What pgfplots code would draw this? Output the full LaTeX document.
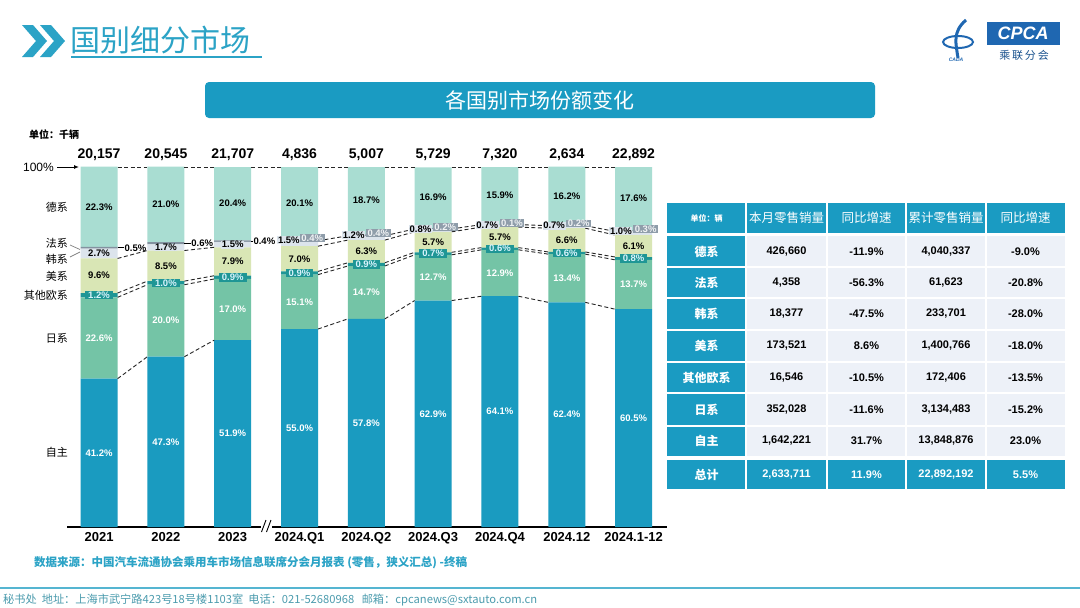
\documentclass[border=0pt]{standalone}
\usepackage{pgfplots}
\pgfplotsset{compat=1.18}
\usepackage{pgfplotstable}
\usepackage{fontspec}
\setmainfont{Liberation Sans}
\newfontfamily\cjk{Noto Sans CJK SC}
\usetikzlibrary{arrows.meta}

\definecolor{czizhu}{HTML}{1A9BC0}
\definecolor{criji}{HTML}{74C4A6}
\definecolor{cou}{HTML}{1F9695}
\definecolor{cmei}{HTML}{D9E6B5}
\definecolor{chan}{HTML}{DCE4EC}
\definecolor{cfa}{HTML}{8392A0}
\definecolor{cde}{HTML}{A9DDD2}
\definecolor{cteal}{HTML}{2BA3C6}
\definecolor{ctab}{HTML}{1A9BC2}
\definecolor{ccell}{HTML}{EDF1F8}
\definecolor{cpblue}{HTML}{1F67B1}
\definecolor{cfoot}{HTML}{4C9CAE}

\pgfplotstableread{
x A J E U K F G
0 41.2 22.6 1.2 9.6 2.7 0.5 22.3
1 47.3 20.0 1.0 8.5 1.7 0.6 21.0
2 51.9 17.0 0.9 7.9 1.5 0.4 20.4
3 55.0 15.1 0.9 7.0 1.5 0.4 20.1
4 57.8 14.7 0.9 6.3 1.2 0.4 18.7
5 62.9 12.7 0.7 5.7 0.8 0.2 16.9
6 64.1 12.9 0.6 5.7 0.7 0.1 15.9
7 62.4 13.4 0.6 6.6 0.7 0.2 16.2
8 60.5 13.7 0.8 6.1 1.0 0.3 17.6
}\shares

\pgfplotsset{
  conn/.style={black!85, dash pattern=on 4pt off 2.5pt, line width=0.9pt, mark=none},
  lab/.style={only marks, mark=none, point meta=explicit symbolic,
    nodes near coords={\pgfplotspointmeta\%},
    every node near coord/.append style={anchor=center, font=\bfseries\fontsize{9.5}{9.5}\selectfont, inner sep=0.6pt, #1}},
}

\begin{document}
\begin{tikzpicture}
\begin{scope}[x=1pt,y=-1pt]
\path[use as bounding box, fill=white] (0,0) rectangle (1080,608);
% title
\fill[cteal] (22,25) -- (33,25) -- (47,41) -- (33,57) -- (22,57) -- (36,41) -- cycle;
\fill[cteal] (40,25) -- (51,25) -- (65,41) -- (51,57) -- (40,57) -- (54,41) -- cycle;
\node[anchor=west, text=cteal, font=\cjk\fontsize{30}{30}\selectfont, inner sep=0pt] at (70,40) {国别细分市场};
\draw[cteal, line width=1.2pt] (71,57) -- (262,57);
% logo
\draw[cpblue, line width=2pt] (958,42) ellipse [x radius=15, y radius=6];
\draw[cpblue, line width=3pt] (966,20) .. controls (952,32) and (956,44) .. (958,58);
\node[text=cpblue, font=\bfseries\itshape\fontsize{5}{5}\selectfont] at (956,60) {CADA};
\fill[cpblue] (987,22) rectangle (1060,45);
\node[text=white, font=\bfseries\itshape\fontsize{18}{18}\selectfont] at (1023,33.5) {CPCA};
\node[text=cpblue!80!black, font=\cjk\fontsize{11}{11}\selectfont] at (1024,55) {乘\,联\,分\,会};
% banner
\fill[ctab, rounded corners=4pt] (205,82) rectangle (875,118);
\node[text=white, font=\cjk\fontsize{21}{21}\selectfont] at (540,100) {各国别市场份额变化};
% unit
\node[anchor=west, font=\cjk\bfseries\fontsize{10}{10}\selectfont, inner sep=0pt] at (29,135) {单位：千辆};
\node[anchor=east, font=\fontsize{12}{12}\selectfont, inner sep=0pt] at (54,167) {100\%};
\draw[-{Latex[length=5pt,width=4pt]}, line width=1pt] (57,167) -- (79,167);
% category labels
\begin{scope}[every node/.style={anchor=east, font=\cjk\fontsize{11}{11}\selectfont, inner sep=0pt}]
\node at (68,207) {德系};
\node at (68,243) {法系};
\node at (68,259) {韩系};
\node at (68,276) {美系};
\node at (68,295) {其他欧系};
\node at (68,338) {日系};
\node at (68,452) {自主};
\end{scope}
\draw[gray, line width=0.7pt] (70,245) -- (80,249.5);
\draw[gray, line width=0.7pt] (70,257) -- (80,252);
% table
\fill[ctab] (667,203) rectangle (1065,233);
\fill[ctab] (667,236) rectangle (746,456);
\fill[ccell] (746,236) rectangle (1065,456);
\fill[ctab] (667,460) rectangle (1065,489);
\foreach \xx in {746,827,906,986} {\draw[white, line width=1.5pt] (\xx,203) -- (\xx,489);}
\foreach \yy in {267,298,330,362,393,426} {\draw[white, line width=2pt] (667,\yy) -- (1065,\yy);}
\begin{scope}[every node/.style={text=white, font=\cjk\fontsize{12.5}{12.5}\selectfont, inner sep=0pt}]
\node[font=\cjk\bfseries\fontsize{8}{8}\selectfont] at (706.5,218) {单位：辆};
\node at (786.5,218) {本月零售销量};
\node at (866.5,218) {同比增速};
\node at (946,218) {累计零售销量};
\node at (1025.5,218) {同比增速};
\end{scope}
\begin{scope}[every node/.style={text=white, font=\cjk\bfseries\fontsize{12}{12}\selectfont, inner sep=0pt}]
\node at (706.5,251.5) {德系};
\node at (706.5,282.5) {法系};
\node at (706.5,314) {韩系};
\node at (706.5,346) {美系};
\node at (706.5,377.5) {其他欧系};
\node at (706.5,409.5) {日系};
\node at (706.5,441) {自主};
\node at (706.5,474.5) {总计};
\end{scope}
\begin{scope}[every node/.style={font=\bfseries\fontsize{11}{11}\selectfont, inner sep=0pt}]
\node at (786.5,251.5) {426,660}; \node at (866.5,251.5) {-11.9\%}; \node at (946,251.5) {4,040,337}; \node at (1025.5,251.5) {-9.0\%};
\node at (786.5,282.5) {4,358}; \node at (866.5,282.5) {-56.3\%}; \node at (946,282.5) {61,623}; \node at (1025.5,282.5) {-20.8\%};
\node at (786.5,314) {18,377}; \node at (866.5,314) {-47.5\%}; \node at (946,314) {233,701}; \node at (1025.5,314) {-28.0\%};
\node at (786.5,346) {173,521}; \node at (866.5,346) {8.6\%}; \node at (946,346) {1,400,766}; \node at (1025.5,346) {-18.0\%};
\node at (786.5,377.5) {16,546}; \node at (866.5,377.5) {-10.5\%}; \node at (946,377.5) {172,406}; \node at (1025.5,377.5) {-13.5\%};
\node at (786.5,409.5) {352,028}; \node at (866.5,409.5) {-11.6\%}; \node at (946,409.5) {3,134,483}; \node at (1025.5,409.5) {-15.2\%};
\node at (786.5,441) {1,642,221}; \node at (866.5,441) {31.7\%}; \node at (946,441) {13,848,876}; \node at (1025.5,441) {23.0\%};
\end{scope}
\begin{scope}[every node/.style={text=white, font=\bfseries\fontsize{11}{11}\selectfont, inner sep=0pt}]
\node at (786.5,474.5) {2,633,711}; \node at (866.5,474.5) {11.9\%}; \node at (946,474.5) {22,892,192}; \node at (1025.5,474.5) {5.5\%};
\end{scope}
% source and footer
\node[anchor=west, text=cteal, font=\cjk\bfseries\fontsize{11.5}{11.5}\selectfont, inner sep=0pt] at (34,563) {数据来源：中国汽车流通协会乘用车市场信息联席分会月报表 (零售，狭义汇总) -终稿};
\draw[cteal!80, line width=2pt] (0,588) -- (1080,588);
\node[anchor=west, text=cfoot, font=\cjk\fontsize{11.2}{11.2}\selectfont, inner sep=0pt] at (3,600) {秘书处\ \ 地址：上海市武宁路423号18号楼1103室\ \ 电话：021-52680968\ \ \ 邮箱：cpcanews@sxtauto.com.cn};
\end{scope}

% bars
\begin{axis}[
  at={(67pt,-527pt)}, anchor=south west,
  scale only axis, width=600pt, height=360pt,
  xmin=-0.48, xmax=8.5, ymin=0, ymax=100,
  ybar stacked, bar width=37pt,
  axis x line=bottom, axis y line=none,
  x axis line style={-, line width=1.2pt, black},
  xtick={0,...,8},
  xticklabels={2021,2022,2023,2024.Q1,2024.Q2,2024.Q3,2024.Q4,2024.12,2024.1-12},
  major tick length=0pt,
  xticklabel style={font=\bfseries\fontsize{13}{13}\selectfont, inner sep=0pt, yshift=-5pt},
  clip=false,
]
\addplot[fill=czizhu, draw=none] table[x=x,y=A]{\shares};
\addplot[fill=criji, draw=none] table[x=x,y=J]{\shares};
\addplot[fill=cou, draw=none] table[x=x,y=E]{\shares};
\addplot[fill=cmei, draw=none] table[x=x,y=U]{\shares};
\addplot[fill=chan, draw=none] table[x=x,y=K]{\shares};
\addplot[fill=cfa, draw=none] table[x=x,y=F]{\shares};
\addplot[fill=cde, draw=none] table[x=x,y=G]{\shares};
\end{axis}

% connectors and labels
\begin{axis}[
  at={(67pt,-527pt)}, anchor=south west,
  scale only axis, width=600pt, height=360pt,
  xmin=-0.48, xmax=8.5, ymin=0, ymax=100,
  hide axis, clip=false, unbounded coords=jump,
]
\addplot[conn] table {
x y
0.277 41.2
0.723 47.3
1 nan
1.277 47.3
1.723 51.9
2 nan
3.277 55.0
3.723 57.8
4 nan
4.277 57.8
4.723 62.9
5 nan
5.277 62.9
5.723 64.1
6 nan
6.277 64.1
6.723 62.4
7 nan
7.277 62.4
7.723 60.5
};
\addplot[conn] table {
x y
0.277 63.8
0.723 67.3
1 nan
1.277 67.3
1.723 68.9
2 nan
3.277 70.1
3.723 72.5
4 nan
4.277 72.5
4.723 75.6
5 nan
5.277 75.6
5.723 77.0
6 nan
6.277 77.0
6.723 75.8
7 nan
7.277 75.8
7.723 74.2
};
\addplot[conn] table {
x y
0.277 65.0
0.723 68.3
1 nan
1.277 68.3
1.723 69.8
2 nan
3.277 71.0
3.723 73.4
4 nan
4.277 73.4
4.723 76.3
5 nan
5.277 76.3
5.723 77.6
6 nan
6.277 77.6
6.723 76.4
7 nan
7.277 76.4
7.723 75.0
};
\addplot[conn] table {
x y
0.277 74.6
0.723 76.8
1 nan
1.277 76.8
1.723 77.7
2 nan
3.277 78.0
3.723 79.7
4 nan
4.277 79.7
4.723 82.0
5 nan
5.277 82.0
5.723 83.3
6 nan
6.277 83.3
6.723 83.0
7 nan
7.277 83.0
7.723 81.1
};
\addplot[conn] table {
x y
3.277 79.5
3.723 80.9
4 nan
4.277 80.9
4.723 82.8
5 nan
5.277 82.8
5.723 84.0
6 nan
6.277 84.0
6.723 83.7
7 nan
7.277 83.7
7.723 82.1
};
\addplot[conn] table {
x y
0.277 100
0.723 100
1 nan
1.277 100
1.723 100
2 nan
2.277 100
2.723 100
3 nan
3.277 100
3.723 100
4 nan
4.277 100
4.723 100
5 nan
5.277 100
5.723 100
6 nan
6.277 100
6.723 100
7 nan
7.277 100
7.723 100
};
\addplot[black, line width=0.8pt, mark=none] table {
x y
0.277 77.55
0.37 77.55
1 nan
1.277 78.8
1.37 78.8
2 nan
2.277 79.4
2.31 79.4
};
% white labels
\addplot[lab={text=white}] table[meta=v] {
x y v
0 20.6 41.2
1 23.65 47.3
2 25.95 51.9
3 27.5 55.0
4 28.9 57.8
5 31.45 62.9
6 32.05 64.1
7 31.2 62.4
8 30.25 60.5
0 52.5 22.6
1 57.3 20.0
2 60.4 17.0
3 62.55 15.1
4 65.15 14.7
5 69.25 12.7
6 70.55 12.9
7 69.1 13.4
8 67.35 13.7
};
% black labels
\addplot[lab={text=black}] table[meta=v] {
x y v
0 69.8 9.6
1 72.55 8.5
2 73.75 7.9
3 74.5 7.0
4 76.55 6.3
5 79.15 5.7
6 80.45 5.7
7 79.7 6.6
8 78.05 6.1
0 88.9 22.3
1 89.55 21.0
2 89.8 20.4
3 89.95 20.1
4 90.65 18.7
5 91.5 16.9
6 92.05 15.9
7 91.95 16.2
8 91.2 17.6
};
% Korean labels
\addplot[lab={text=black, fill=chan}] table[meta=v] {
x y v
0 75.95 2.7
1 77.65 1.7
2 78.45 1.5
2.84 79.7 1.5
3.81 81.1 1.2
4.81 82.8 0.8
5.81 83.9 0.7
6.81 83.7 0.7
7.81 82.2 1.0
};
% French labels outside
\addplot[lab={text=black, anchor=west}] table[meta=v] {
x y v
0.37 77.55 0.5
1.37 78.8 0.6
2.30 79.4 0.4
};
% French boxes
\addplot[lab={text=white!88!cfa, fill=cfa!90, inner xsep=1.5pt}] table[meta=v] {
x y v
3.19 80.3 0.4
4.18 81.7 0.4
5.18 83.4 0.2
6.18 84.5 0.1
7.18 84.3 0.2
8.18 82.8 0.3
};
% other Europe boxes
\addplot[lab={text=white!85!cyan, fill=cou, inner xsep=3pt, inner ysep=0.8pt}] table[meta=v] {
x y v
0 64.4 1.2
1 67.8 1.0
2 69.35 0.9
3 70.55 0.9
4 72.95 0.9
5 75.95 0.7
6 77.3 0.6
7 76.1 0.6
8 74.6 0.8
};
% totals
\addplot[only marks, mark=none, point meta=explicit symbolic,
  nodes near coords={\pgfplotspointmeta},
  every node near coord/.append style={anchor=center, font=\bfseries\fontsize{14}{14}\selectfont, inner sep=0pt}] table[meta=v] {
x y v
0 103.3 20,157
1 103.3 20,545
2 103.3 21,707
3 103.3 4,836
4 103.3 5,007
5 103.3 5,729
6 103.3 7,320
7 103.3 2,634
8 103.3 22,892
};
\end{axis}

% axis break
\begin{scope}[x=1pt,y=-1pt]
\fill[white] (261,524) rectangle (272,530);
\draw[black, line width=0.9pt] (261.5,532) -- (266,520);
\draw[black, line width=0.9pt] (266.5,532) -- (271,520);
\end{scope}
\end{tikzpicture}
\end{document}
